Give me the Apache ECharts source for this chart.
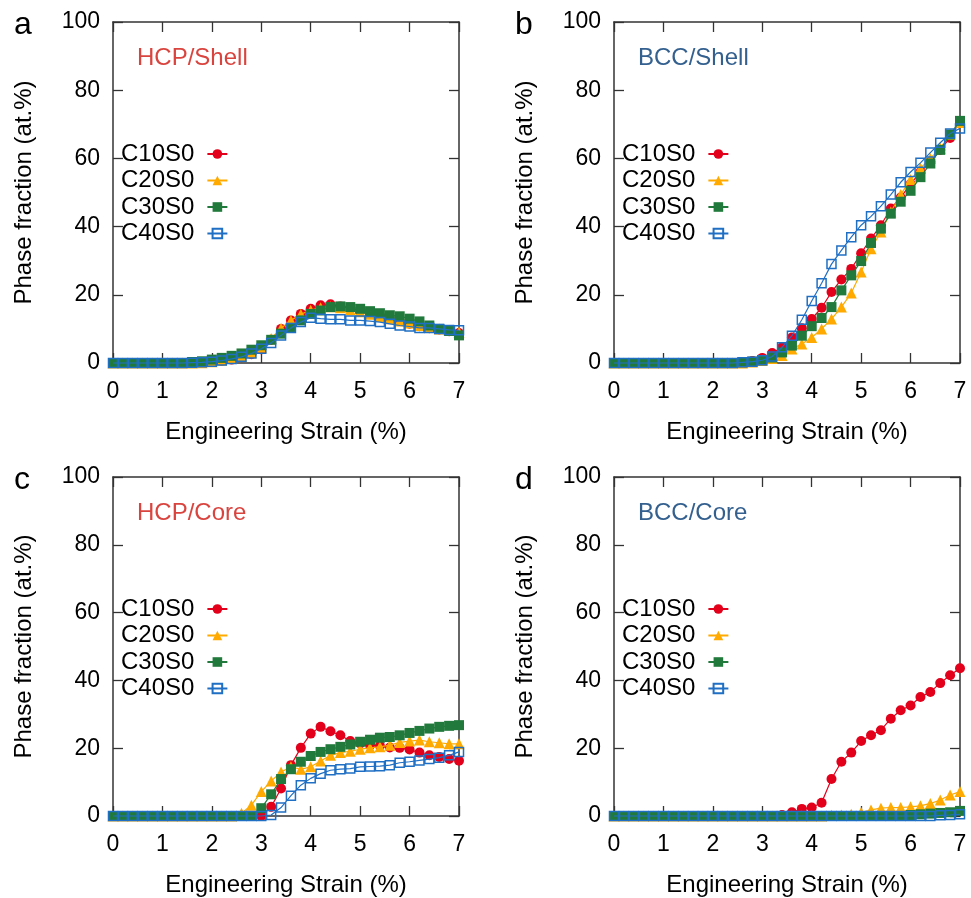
<!DOCTYPE html>
<html>
<head>
<meta charset="utf-8">
<script src="https://cdn.jsdelivr.net/npm/echarts@6/dist/echarts.min.js"></script>
<style>html,body{margin:0;padding:0;background:#fff;}#chart{width:971px;height:898px;}</style>
</head>
<body>
<div id="chart"></div>
<script>
// ---------- data ----------
const strain = [0,0.2,0.4,0.6,0.8,1.0,1.2,1.4,1.6,1.8,2.0,2.2,2.4,2.6,2.8,3.0,3.2,3.4,3.6,3.8,4.0,4.2,4.4,4.6,4.8,5.0,5.2,5.4,5.6,5.8,6.0,6.2,6.4,6.6,6.8,7.0];
const seriesNames = ['C10S0','C20S0','C30S0','C40S0'];
const panelLetters = ['a','b','c','d'];
const panelTitles = ['HCP/Shell','BCC/Shell','HCP/Core','BCC/Core'];
const xTicks = [0,1,2,3,4,5,6,7];
const yTicks = [0,20,40,60,80,100];

const hcpShell_C10S0 = [0,0,0,0,0,0,0,0,0,0.1,0.3,0.6,1.0,1.7,2.6,4.0,6.8,10.0,12.5,14.4,15.9,16.9,17.2,16.6,16.0,15.2,14.5,13.8,13.0,12.3,11.5,10.8,10.2,9.8,9.3,8.8];
const hcpShell_C20S0 = [0,0,0,0,0,0,0,0,0,0.1,0.4,0.8,1.3,2.0,3.0,4.6,7.2,10.2,12.5,14.3,15.5,16.2,16.5,16.2,15.6,15.0,14.3,13.6,13.0,12.3,11.7,11.0,10.5,10.0,9.5,9.0];
const hcpShell_C30S0 = [0,0,0,0,0,0,0,0,0.3,0.5,1.0,1.5,2.1,2.8,3.9,5.2,6.8,8.6,10.3,12.5,14.4,15.4,16.4,16.6,16.4,15.9,15.2,14.6,14.0,13.7,13.0,12.2,11.0,10.0,9.4,8.1];
const hcpShell_C40S0 = [0,0,0,0,0,0,0,0,0.1,0.2,0.4,0.7,1.2,1.8,2.8,4.2,5.9,8.1,10.3,12.0,13.3,13.0,12.8,12.8,12.5,12.5,12.3,12.0,11.5,11.0,10.7,10.3,10.3,10.0,9.7,9.6];

const bccShell_C10S0 = [0,0,0,0,0,0,0,0,0,0,0,0,0,0.2,0.6,1.5,2.9,4.6,7.5,10.2,12.9,16.2,20.8,24.5,27.6,32.2,36.5,40.4,45.3,48.5,52.5,56.0,59.0,62.5,66.0,71.0];
const bccShell_C20S0 = [0,0,0,0,0,0,0,0,0,0,0,0,0,0,0.3,0.7,1.3,2.2,4.1,5.6,7.5,10.0,12.9,16.4,20.5,26.7,33.5,38.4,44.3,49.4,53.8,57.1,60.0,63.0,67.0,70.5];
const bccShell_C30S0 = [0,0,0,0,0,0,0,0,0,0,0,0,0,0.2,0.4,0.8,1.6,3.1,5.1,8.0,10.8,13.2,16.4,21.3,25.7,29.9,35.2,39.4,43.8,47.3,50.5,54.5,58.5,62.5,67.0,71.0];
const bccShell_C40S0 = [0,0,0,0,0,0,0,0,0,0,0,0,0,0.2,0.4,0.8,1.9,4.6,8.0,12.7,18.2,23.4,29.0,33.0,36.9,40.4,43.0,46.0,49.4,53.0,56.0,58.7,61.7,64.6,67.3,68.8];

const hcpCore_C10S0 = [0,0,0,0,0,0,0,0,0,0,0,0,0,0,0,0,2.7,8.1,15.0,20.1,24.3,26.3,25.0,23.8,22.1,21.4,20.9,20.7,20.2,20.1,19.6,18.7,17.9,17.4,16.8,16.3];
const hcpCore_C20S0 = [0,0,0,0,0,0,0,0,0,0,0,0,0,0.8,3.2,7.2,10.3,13.0,14.5,13.8,14.5,16.2,17.9,18.7,19.1,19.7,20.1,20.4,20.9,21.7,22.1,22.4,21.9,21.6,21.3,21.3];
const hcpCore_C30S0 = [0,0,0,0,0,0,0,0,0,0,0,0,0,0,0,2.3,6.4,10.9,13.8,16.0,17.7,18.9,19.7,20.4,21.1,21.9,22.5,23.1,23.3,23.8,24.5,25.1,25.8,26.3,26.6,26.8];
const hcpCore_C40S0 = [0,0,0,0,0,0,0,0,0,0,0,0,0,0,0,0,0.3,2.5,6.0,9.1,11.1,12.5,13.5,13.8,14.0,14.5,14.6,14.7,15.0,15.7,16.0,16.4,16.8,17.2,17.9,18.9];

const bccCore_C10S0 = [0,0,0,0,0,0,0,0,0,0,0,0,0,0,0,0,0,0.3,1.1,2.1,2.5,3.9,10.9,16.0,18.7,22.1,23.8,25.3,28.7,31.2,32.6,35.1,36.6,39.2,41.5,43.6];
const bccCore_C20S0 = [0,0,0,0,0,0,0,0,0,0,0,0,0,0,0,0,0,0,0,0,0,0,0.2,0.3,0.5,1.0,1.8,2.3,2.5,2.5,2.7,3.0,3.7,4.7,6.2,7.2];
const bccCore_C30S0 = [0,0,0,0,0,0,0,0,0,0,0,0,0,0,0,0,0,0,0,0,0,0,0,0,0,0,0,0,0,0,0.3,0.5,0.7,0.9,1.1,1.5];
const bccCore_C40S0 = [0,0,0,0,0,0,0,0,0,0,0,0,0,0,0,0,0,0,0,0,0,0,0,0,0,0,0,0,0,0,0,0,0,0.2,0.3,0.5];

const panelData = [
  [hcpShell_C10S0, hcpShell_C20S0, hcpShell_C30S0, hcpShell_C40S0],
  [bccShell_C10S0, bccShell_C20S0, bccShell_C30S0, bccShell_C40S0],
  [hcpCore_C10S0, hcpCore_C20S0, hcpCore_C30S0, hcpCore_C40S0],
  [bccCore_C10S0, bccCore_C20S0, bccCore_C30S0, bccCore_C40S0]
];

// ---------- styling / layout ----------
const FONT = '"Liberation Sans", Arial, Helvetica, sans-serif';
const AX = '#333';
const gridPos = [
  {left: 113, top: 22}, {left: 614, top: 22},
  {left: 113, top: 477}, {left: 614, top: 477}
];
const GW = 346, GH = 341;
const titleColors = ['#d9443f', '#34608f', '#d9443f', '#34608f'];
const styles = [
  {color: '#e3001b', symbol: 'circle', size: 10, fill: '#e3001b'},
  {color: '#ffaa00', symbol: 'triangle', size: 11, fill: '#ffaa00'},
  {color: '#217a3c', symbol: 'rect', size: 10, fill: '#217a3c'},
  {color: '#1f6fc4', symbol: 'rect', size: 9, fill: 'rgba(255,255,255,0)'}
];

const grids = [], xAxes = [], yAxes = [], series = [], titles = [], legends = [];
for (let p = 0; p < 4; p++) {
  grids.push({left: gridPos[p].left, top: gridPos[p].top, width: GW, height: GH, containLabel: false});
  const tick = {show: true, inside: true, length: 10, lineStyle: {color: AX, width: 1.3}};
  const line = {show: true, onZero: false, lineStyle: {color: AX, width: 1.5}};
  // bottom x axis
  xAxes.push({
    type: 'value', gridIndex: p, position: 'bottom', min: xTicks[0], max: xTicks[xTicks.length - 1], interval: 1,
    axisLine: line, axisTick: tick, splitLine: {show: false},
    axisLabel: {fontFamily: FONT, fontSize: 23, color: '#000', margin: 17},
    name: 'Engineering Strain (%)', nameLocation: 'middle', nameGap: 57,
    nameTextStyle: {fontFamily: FONT, fontSize: 24, color: '#000'}
  });
  // top mirror axis
  xAxes.push({
    type: 'value', gridIndex: p, position: 'top', min: xTicks[0], max: xTicks[xTicks.length - 1], interval: 1,
    axisLine: line, axisTick: tick, splitLine: {show: false}, axisLabel: {show: false}
  });
  yAxes.push({
    type: 'value', gridIndex: p, position: 'left', min: yTicks[0], max: yTicks[yTicks.length - 1], interval: 20,
    axisLine: line, axisTick: tick, splitLine: {show: false},
    axisLabel: {fontFamily: FONT, fontSize: 23, color: '#000', margin: 13},
    name: 'Phase fraction (at.%)', nameLocation: 'middle', nameGap: 77,
    nameTextStyle: {fontFamily: FONT, fontSize: 24, color: '#000'}
  });
  yAxes.push({
    type: 'value', gridIndex: p, position: 'right', min: yTicks[0], max: yTicks[yTicks.length - 1], interval: 20,
    axisLine: line, axisTick: tick, splitLine: {show: false}, axisLabel: {show: false}
  });
  for (let k = 0; k < 4; k++) {
    const st = styles[k];
    series.push({
      type: 'line', name: seriesNames[k], xAxisIndex: 2 * p, yAxisIndex: 2 * p,
      data: strain.map((x, i) => [x, panelData[p][k][i]]),
      symbol: st.symbol, symbolSize: st.size, showSymbol: true, clip: false,
      lineStyle: {color: st.color, width: 1.2},
      itemStyle: {color: st.fill, borderColor: st.color, borderWidth: k === 3 ? 1.5 : 0},
      emphasis: {disabled: true}, animation: false, z: 2 + k
    });
  }
  titles.push({
    text: panelLetters[p], left: gridPos[p].left - 104, top: gridPos[p].top - 18,
    textStyle: {fontFamily: FONT, fontSize: 32, fontWeight: 'normal', color: '#000'}
  });
  titles.push({
    text: panelTitles[p], left: gridPos[p].left + 19, top: gridPos[p].top + 19,
    textStyle: {fontFamily: FONT, fontSize: 24, fontWeight: 'normal', color: titleColors[p]}
  });
  legends.push({
    data: seriesNames, orient: 'vertical', align: 'right',
    left: gridPos[p].left + 3, top: gridPos[p].top + 115,
    itemWidth: 20, itemHeight: 12, itemGap: 2.5, selectedMode: false,
    textStyle: {fontFamily: FONT, fontSize: 24, color: '#000', lineHeight: 24, padding: [0, 8, 0, 0]}
  });
}

const chart = echarts.init(document.getElementById('chart'), null, {renderer: 'canvas'});
chart.setOption({
  backgroundColor: '#fff',
  animation: false,
  title: titles,
  legend: legends,
  grid: grids,
  xAxis: xAxes,
  yAxis: yAxes,
  series: series
});
</script>
</body>
</html>
